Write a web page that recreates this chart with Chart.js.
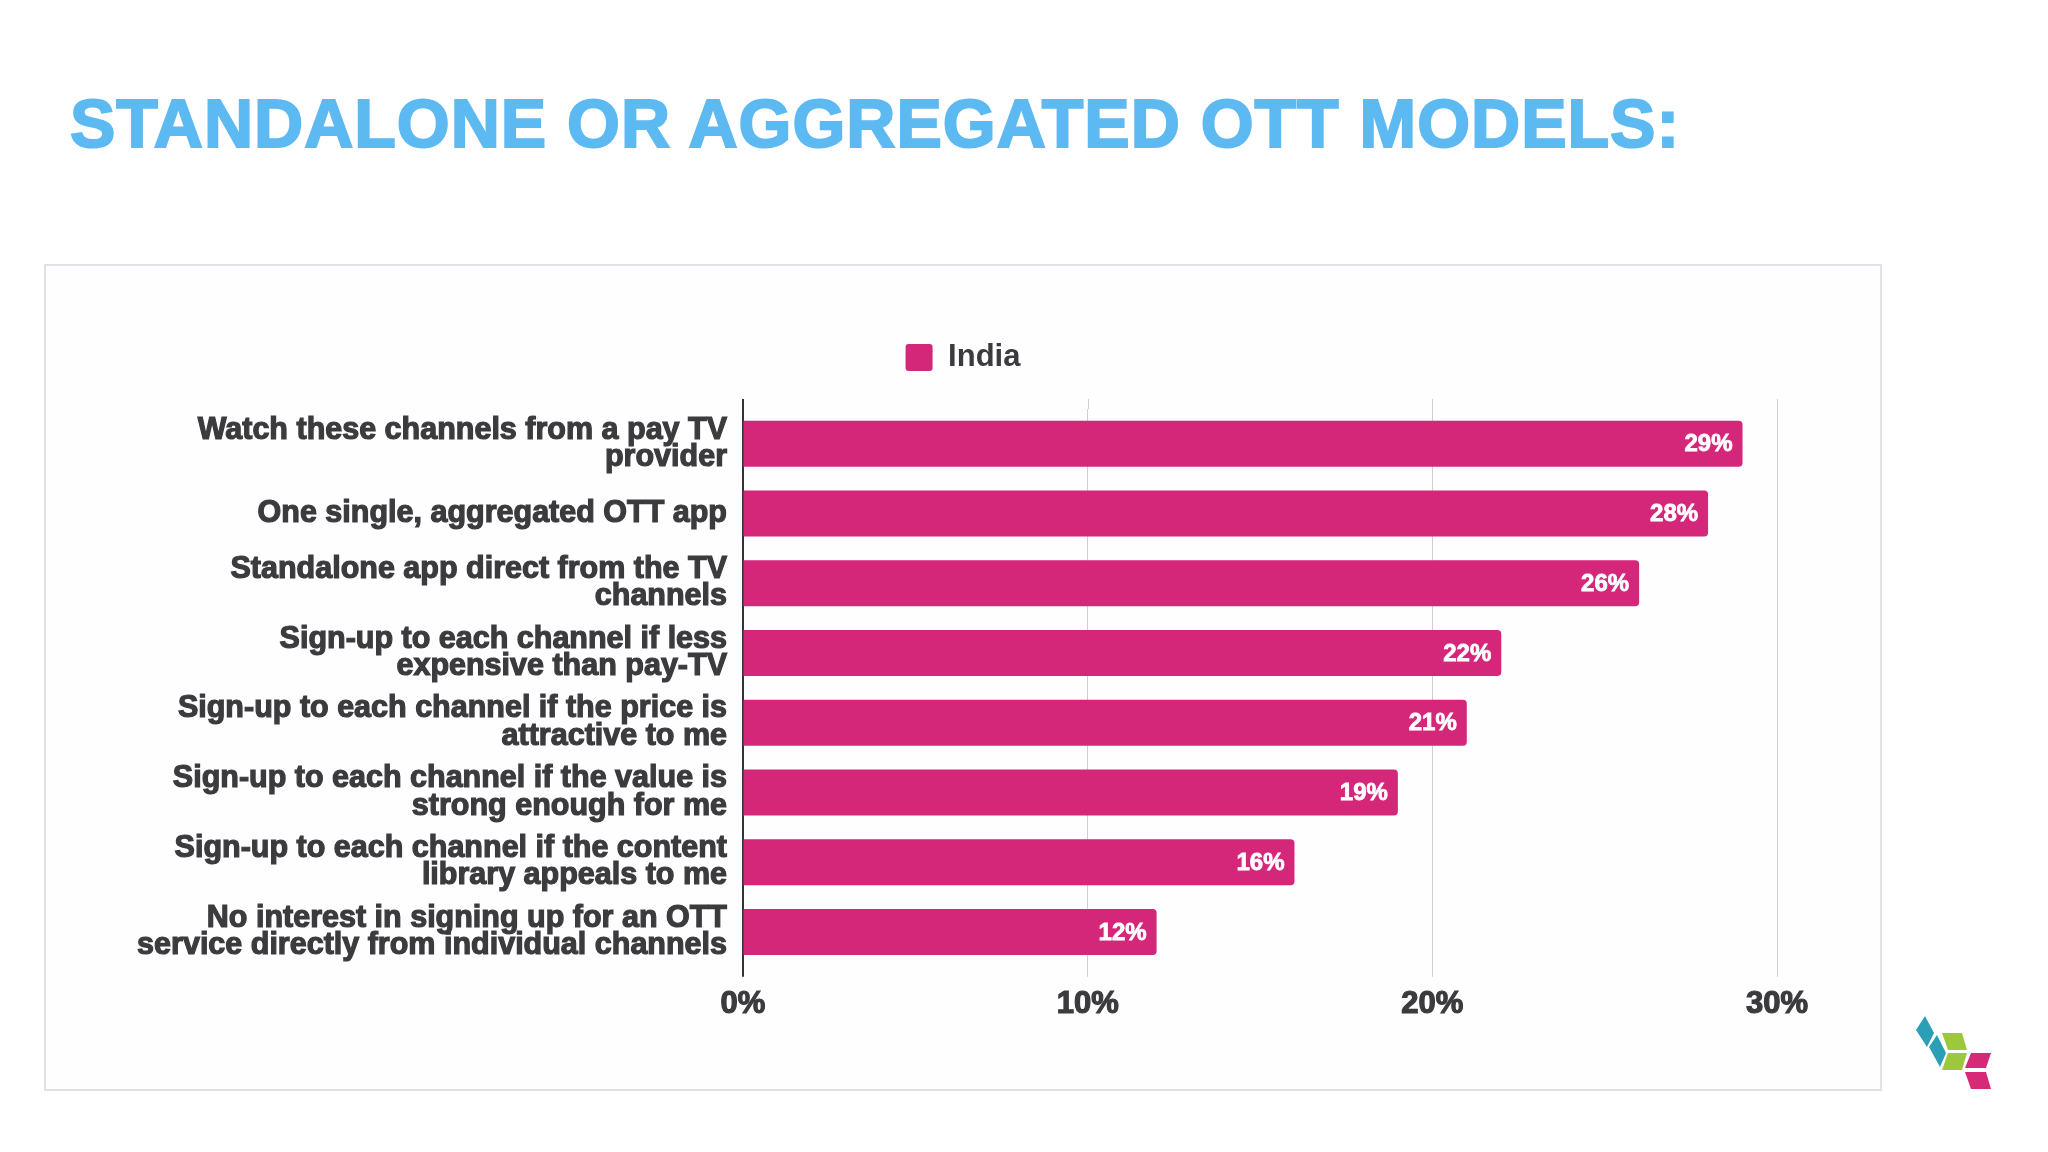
<!DOCTYPE html>
<html lang="en">
<head>
    <meta charset="UTF-8">
    <title>OTT models</title>
    <style>
        html, body {
            margin: 0;
            padding: 0;
            background: #ffffff;
        }
        body {
            width: 2048px;
            height: 1152px;
            position: relative;
            overflow: hidden;
            font-family: "Liberation Sans", Arial, sans-serif;
        }
        h1 {
            position: absolute;
            left: 70px;
            top: 85px;
            margin: 0;
            font-size: 68px;
            line-height: 76px;
            letter-spacing: 1px;
            font-weight: bold;
            color: #5db9f1;
            -webkit-text-stroke: 2px #5db9f1;
            white-space: nowrap;
        }
        .box {
            position: absolute;
            left: 44px;
            top: 264px;
            width: 1834px;
            height: 823px;
            border: 2px solid #e2e0e6;
            background: #fefdff;
        }
        #wrap {
            position: absolute;
            left: 44px;
            top: 264px;
            width: 1838px;
            height: 827px;
        }
        .logo {
            position: absolute;
            left: 1900px;
            top: 1000px;
        }
    </style>
</head>
<body>
    <h1>STANDALONE OR AGGREGATED OTT MODELS:</h1>
    <div class="box"></div>
    <div id="wrap"><canvas id="myChart"></canvas></div>

    <svg class="logo" width="110" height="110" viewBox="1900 1000 110 110">
        <polygon points="1925,1016 1916,1030 1927,1047 1934,1033" fill="#2a9fb6"/>
        <polygon points="1937,1035 1929,1047 1940,1067 1946,1053" fill="#2a9fb6"/>
        <polygon points="1942,1033 1962,1033 1967,1050 1948,1050" fill="#9dc83d"/>
        <polygon points="1948,1053 1967,1053 1962,1070 1942,1070" fill="#9dc83d"/>
        <polygon points="1965,1068 1986,1068 1991,1053 1971,1053" fill="#d62a78"/>
        <polygon points="1965,1072 1986,1072 1991,1089 1971,1089" fill="#d62a78"/>
    </svg>

    <script src="https://cdn.jsdelivr.net/npm/chart.js"></script>

    <script>
        // data
        let categories = [
            ['Watch these channels from a pay TV', 'provider'],
            ['One single, aggregated OTT app'],
            ['Standalone app direct from the TV', 'channels'],
            ['Sign-up to each channel if less', 'expensive than pay-TV'],
            ['Sign-up to each channel if the price is', 'attractive to me'],
            ['Sign-up to each channel if the value is', 'strong enough for me'],
            ['Sign-up to each channel if the content', 'library appeals to me'],
            ['No interest in signing up for an OTT', 'service directly from individual channels']
        ];
        let india = [29, 28, 26, 22, 21, 19, 16, 12];
        let xTicks = [0, 10, 20, 30];

        let pink = '#d5277a';
        let textColor = '#3b3b3d';
        let fontFamily = '"Liberation Sans", Arial, sans-serif';

        // legend gets a bit taller so the plot starts lower
        let legendGap = {
            id: 'legendGap',
            beforeInit(chart) {
                let fit = chart.legend.fit;
                chart.legend.fit = function () {
                    fit.bind(chart.legend)();
                    this.height += 26;
                };
            }
        };

        // grid lines run a little past the plot, top and bottom
        let gridExtend = {
            id: 'gridExtend',
            beforeDatasetsDraw(chart) {
                let ctx = chart.ctx;
                let area = chart.chartArea;
                let x = chart.scales.x;
                ctx.save();
                ctx.lineWidth = 1;
                ctx.strokeStyle = '#cfcfcf';
                for (let i = 1; i < xTicks.length; i++) {
                    let px = Math.round(x.getPixelForValue(xTicks[i])) + 0.5;
                    ctx.beginPath();
                    ctx.moveTo(px, area.top - 10);
                    ctx.lineTo(px, area.top);
                    ctx.stroke();
                }
                let zero = x.getPixelForValue(0);
                ctx.lineWidth = 2;
                ctx.strokeStyle = '#333333';
                ctx.beginPath();
                ctx.moveTo(zero, area.top - 10);
                ctx.lineTo(zero, area.bottom + 10);
                ctx.stroke();
                ctx.restore();
            }
        };

        // white value labels inside the end of each bar
        let barLabels = {
            id: 'barLabels',
            afterDatasetsDraw(chart) {
                let ctx = chart.ctx;
                let meta = chart.getDatasetMeta(0);
                ctx.save();
                ctx.fillStyle = '#ffffff';
                ctx.strokeStyle = '#ffffff';
                ctx.lineWidth = 0.8;
                ctx.font = 'bold 24px ' + fontFamily;
                ctx.textAlign = 'right';
                ctx.textBaseline = 'middle';
                meta.data.forEach((bar, i) => {
                    ctx.fillText(india[i] + '%', bar.x - 10, bar.y + 1);
                    ctx.strokeText(india[i] + '%', bar.x - 10, bar.y + 1);
                });
                ctx.restore();
            }
        };

        let ctx = document.getElementById('myChart');
        let myChart = new Chart(ctx, {
            type: 'bar',
            data: {
                labels: categories,
                datasets: [{
                    label: 'India',
                    data: india,
                    backgroundColor: pink,
                    borderRadius: 4,
                    barPercentage: 0.66,
                    categoryPercentage: 1
                }]
            },
            options: {
                indexAxis: 'y',
                responsive: true,
                maintainAspectRatio: false,
                animation: false,
                layout: {
                    padding: { top: 68, right: 0, bottom: 59, left: 0 }
                },
                plugins: {
                    legend: {
                        display: true,
                        position: 'top',
                        labels: {
                            boxWidth: 27,
                            boxHeight: 27,
                            padding: 10,
                            color: textColor,
                            useBorderRadius: true,
                            borderRadius: 3,
                            font: { family: fontFamily, size: 31, weight: 'bold' }
                        }
                    },
                    tooltip: { enabled: false }
                },
                scales: {
                    x: {
                        min: 0,
                        max: 30,
                        afterBuildTicks(scale) {
                            scale.ticks = xTicks.map(v => ({ value: v }));
                        },
                        grid: {
                            color: '#cfcfcf',
                            lineWidth: 1,
                            drawTicks: true,
                            tickLength: 10
                        },
                        border: { display: false },
                        ticks: {
                            padding: 9,
                            color: textColor,
                            textStrokeColor: textColor,
                            textStrokeWidth: 1.2,
                            font: { family: fontFamily, size: 31, weight: 'bold' },
                            callback: v => v + '%'
                        }
                    },
                    y: {
                        afterFit(scale) {
                            scale.width = 699;
                        },
                        grid: { display: false, drawTicks: false },
                        border: { display: true, color: '#333333', width: 2 },
                        ticks: {
                            padding: 16,
                            color: textColor,
                            textStrokeColor: textColor,
                            textStrokeWidth: 1.2,
                            font: { family: fontFamily, size: 30.5, weight: 'bold', lineHeight: 0.9 }
                        }
                    },
                    // empty axis on the right, only keeps space free
                    yRight: {
                        type: 'category',
                        labels: categories,
                        position: 'right',
                        afterFit(scale) {
                            scale.width = 105;
                        },
                        grid: { display: false, drawTicks: false },
                        border: { display: false },
                        ticks: { display: false }
                    }
                }
            },
            plugins: [legendGap, gridExtend, barLabels]
        });
    </script>
</body>
</html>
